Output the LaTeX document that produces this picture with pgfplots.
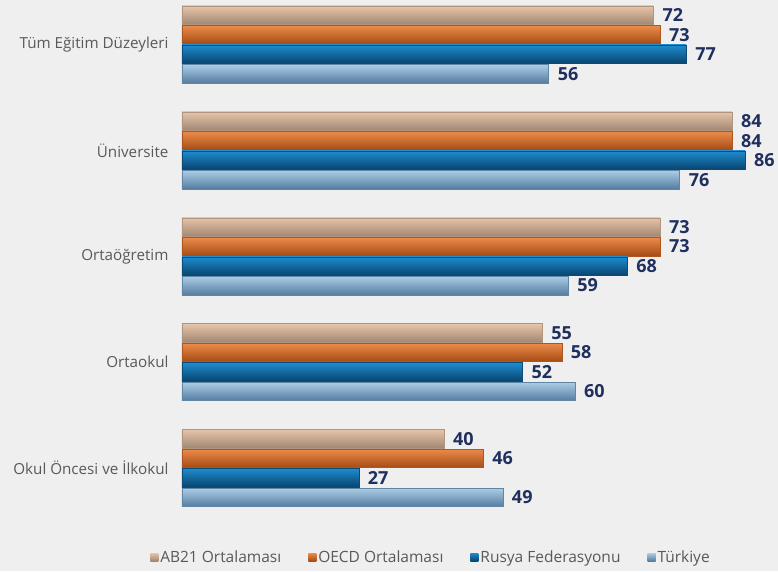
\documentclass[border=0pt]{standalone}
\usepackage{pgfplots}
\pgfplotsset{compat=1.18}
\usepackage{fontspec}
\setmainfont{Open Sans}
\definecolor{bg}{HTML}{EFEFEF}
\definecolor{labelgrey}{HTML}{595959}
\definecolor{navy}{HTML}{1F2F5E}
\pgfplotsset{
  sq legend/.style={legend image code/.code={\path[##1, draw=none] (0pt,-4pt) rectangle (8pt,4pt);}},
  abc/.style={top color={rgb,255:red,232;green,196;blue,168}, middle color={rgb,255:red,252;green,240;blue,228}, bottom color={rgb,255:red,160;green,135;blue,115}, draw={rgb,255:red,175;green,148;blue,128}, line width=0.4pt},
  oec/.style={top color={rgb,255:red,236;green,140;blue,75}, middle color={rgb,255:red,238;green,128;blue,58}, bottom color={rgb,255:red,165;green,75;blue,20}, draw={rgb,255:red,175;green,85;blue,30}, line width=0.4pt},
  rus/.style={top color={rgb,255:red,30;green,140;blue,205}, middle color={rgb,255:red,22;green,128;blue,198}, bottom color={rgb,255:red,8;green,68;blue,112}, draw={rgb,255:red,12;green,75;blue,120}, line width=0.4pt},
  tur/.style={top color={rgb,255:red,172;green,205;blue,230}, middle color={rgb,255:red,190;green,222;blue,242}, bottom color={rgb,255:red,85;green,125;blue,160}, draw={rgb,255:red,95;green,135;blue,165}, line width=0.4pt},
}
\begin{document}
\begin{tikzpicture}
\path[fill=bg, use as bounding box] (-182pt,-60.6pt) rectangle (596pt,510.4pt);
\begin{axis}[
  at={(0,0)}, anchor=south west,
  scale only axis, width=589.2pt, height=508.3pt,
  xbar, xmin=0, xmax=90, ymin=-0.4, ymax=4.4, y dir=reverse,
  axis line style={draw=none}, xtick=\empty, ytick={0,1,2,3,4},
  yticklabels={Tüm Eğitim Düzeyleri, Üniversite, Ortaöğretim, Ortaokul, Okul Öncesi ve İlkokul},
  major tick length=0pt,
  y tick label style={font=\fontsize{15.2}{17}\selectfont, text=labelgrey, xshift=-10pt},
  bar width=0.175,
  nodes near coords,
  nodes near coords style={font=\fontsize{18}{20}\selectfont\bfseries, text=navy, anchor=west, inner sep=0pt, xshift=9pt},
  /pgf/number format/assume math mode=true,
  legend columns=4,
  legend style={at={(0.4226,-0.0917)}, anchor=center, draw=none, fill=none,
    font=\fontsize{15.5}{17}\selectfont, text=labelgrey,
    /tikz/every even column/.append style={column sep=25pt}},
]
% AB21 Ortalamasi
\addplot[abc, bar shift=-0.276, forget plot] coordinates {(72,0)};
\addplot[abc, bar shift=-0.276, forget plot] coordinates {(84,1)};
\addplot[abc, bar shift=-0.276, forget plot] coordinates {(73,2)};
\addplot[abc, bar shift=-0.276, forget plot] coordinates {(55,3)};
\addplot[abc, bar shift=-0.276, forget plot] coordinates {(40,4)};
% OECD Ortalamasi
\addplot[oec, bar shift=-0.092, forget plot] coordinates {(73,0)};
\addplot[oec, bar shift=-0.092, forget plot] coordinates {(84,1)};
\addplot[oec, bar shift=-0.092, forget plot] coordinates {(73,2)};
\addplot[oec, bar shift=-0.092, forget plot] coordinates {(58,3)};
\addplot[oec, bar shift=-0.092, forget plot] coordinates {(46,4)};
% Rusya Federasyonu
\addplot[rus, bar shift=0.092, forget plot] coordinates {(77,0)};
\addplot[rus, bar shift=0.092, forget plot] coordinates {(86,1)};
\addplot[rus, bar shift=0.092, forget plot] coordinates {(68,2)};
\addplot[rus, bar shift=0.092, forget plot] coordinates {(52,3)};
\addplot[rus, bar shift=0.092, forget plot] coordinates {(27,4)};
% Turkiye
\addplot[tur, bar shift=0.276, forget plot] coordinates {(56,0)};
\addplot[tur, bar shift=0.276, forget plot] coordinates {(76,1)};
\addplot[tur, bar shift=0.276, forget plot] coordinates {(59,2)};
\addplot[tur, bar shift=0.276, forget plot] coordinates {(60,3)};
\addplot[tur, bar shift=0.276, forget plot] coordinates {(49,4)};
\addlegendimage{abc, sq legend}\addlegendentry{AB21 Ortalaması}
\addlegendimage{oec, sq legend}\addlegendentry{OECD Ortalaması}
\addlegendimage{rus, sq legend}\addlegendentry{Rusya Federasyonu}
\addlegendimage{tur, sq legend}\addlegendentry{Türkiye}
\end{axis}
\end{tikzpicture}
\end{document}
